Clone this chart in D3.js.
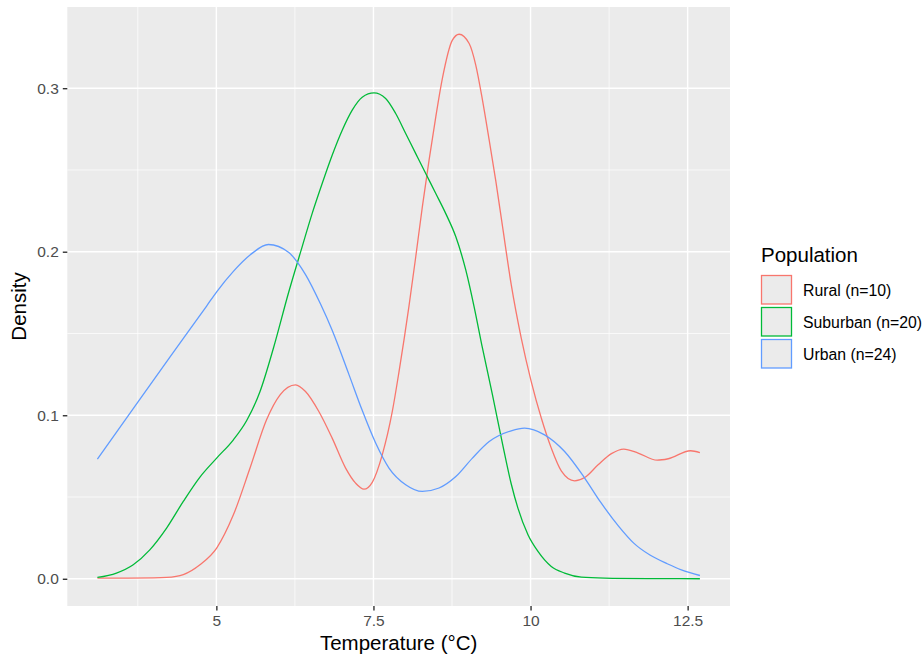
<!DOCTYPE html>
<html>
<head>
<meta charset="utf-8">
<script src="https://cdn.jsdelivr.net/npm/d3@7"></script>
<style>
  body { margin: 0; background: #fff; }
  svg { font-family: "Liberation Sans", Arial, sans-serif; }
</style>
</head>
<body>
<div id="container"></div>
<script>
// density curves: [temperature, density]
var groups = ["Rural (n=10)", "Suburban (n=20)", "Urban (n=24)"];
var colors = ["#F8766D", "#00BA38", "#619CFF"];

var rural = [[3.107,0.0004],[3.6,0.0004],[4.0,0.0005],[4.208,0.0008],[4.474,0.0026],[4.739,0.0086],[5.005,0.0188],
  [5.271,0.0391],[5.536,0.0677],[5.802,0.0975],[6.014,0.1125],[6.26,0.1186],[6.419,0.1145],[6.631,0.1023],
  [6.843,0.086],[7.057,0.0677],[7.216,0.0585],[7.349,0.0548],[7.481,0.0590],[7.64,0.0758],[7.8,0.1023],
  [7.907,0.1267],[8.066,0.1669],[8.173,0.1969],[8.278,0.2274],[8.385,0.256],[8.492,0.2825],[8.597,0.3060],
  [8.756,0.3294],[8.863,0.333],[9.023,0.3273],[9.129,0.3140],[9.235,0.2927],[9.342,0.2682],[9.448,0.2430],
  [9.554,0.2155],[9.692,0.1800],[9.852,0.1472],[10.011,0.1206],[10.171,0.0983],[10.33,0.0799],[10.489,0.0660],
  [10.701,0.0599],[10.861,0.0619],[11.075,0.0697],[11.287,0.0765],[11.483,0.0793],[11.712,0.0769],
  [12.015,0.0725],[12.191,0.0734],[12.546,0.0783],[12.695,0.0772]];

var suburban = [[3.107,0.0008],[3.41,0.0035],[3.677,0.0086],[3.941,0.0177],[4.208,0.031],[4.474,0.0473],
  [4.739,0.0622],[5.005,0.0738],[5.271,0.0850],[5.483,0.0968],[5.695,0.1145],[5.909,0.1411],[6.153,0.1755],
  [6.365,0.2030],[6.524,0.2233],[6.684,0.2417],[6.843,0.2590],[7.003,0.2743],[7.162,0.2866],[7.321,0.2945],
  [7.508,0.2971],[7.694,0.2937],[7.854,0.2845],[8.013,0.2723],[8.173,0.26],[8.332,0.2478],[8.492,0.2356],
  [8.651,0.2233],[8.811,0.2091],[8.97,0.1887],[9.102,0.1663],[9.235,0.141],[9.394,0.1125],[9.554,0.0825],
  [9.692,0.0581],[9.799,0.0432],[9.959,0.0269],[10.118,0.0167],[10.33,0.0075],[10.542,0.0035],
  [10.808,0.0010],[11.18,0.0004],[12.0,0.0001],[12.695,0.0]];

var urban = [[3.107,0.0732],[3.677,0.1041],[4.255,0.1352],[4.845,0.1668],[5.005,0.1755],[5.271,0.1880],
  [5.536,0.1980],[5.829,0.2044],[6.153,0.1995],[6.419,0.1860],[6.658,0.1680],[6.843,0.1520],[7.109,0.1250],
  [7.321,0.1030],[7.535,0.0830],[7.747,0.0677],[8.013,0.0575],[8.278,0.0534],[8.544,0.0555],[8.811,0.0625],
  [9.075,0.0738],[9.342,0.0839],[9.692,0.0905],[9.904,0.0921],[10.223,0.0880],[10.542,0.0778],[10.861,0.0616],
  [11.112,0.0470],[11.4,0.0322],[11.642,0.0218],[11.9,0.0145],[12.175,0.0092],[12.4,0.0055],[12.695,0.0020]];

var series = [rural, suburban, urban];

var xTicks = [5, 7.5, 10, 12.5],
    xMinor = [3.75, 6.25, 8.75, 11.25],
    yTicks = [0, 0.1, 0.2, 0.3],
    yMinor = [0.05, 0.15, 0.25];

var width = 923, height = 658;
var panel = {left: 67.3, right: 730, top: 7, bottom: 606};

var svg = d3.select("#container").append("svg")
    .attr("width", width)
    .attr("height", height);

//scales with ggplot's 5% expansion
var x = d3.scaleLinear().domain([2.628, 13.174]).range([panel.left, panel.right]);
var y = d3.scaleLinear().domain([-0.01665, 0.34965]).range([panel.bottom, panel.top]);

//panel background
svg.append("rect")
    .attr("x", panel.left).attr("y", panel.top)
    .attr("width", panel.right - panel.left)
    .attr("height", panel.bottom - panel.top)
    .attr("fill", "#EBEBEB");

//minor grid
svg.selectAll(".xminor").data(xMinor).enter().append("line")
    .attr("x1", d => x(d)).attr("x2", d => x(d))
    .attr("y1", panel.top).attr("y2", panel.bottom)
    .attr("stroke", "#fff").attr("stroke-width", 0.7);
svg.selectAll(".yminor").data(yMinor).enter().append("line")
    .attr("y1", d => y(d)).attr("y2", d => y(d))
    .attr("x1", panel.left).attr("x2", panel.right)
    .attr("stroke", "#fff").attr("stroke-width", 0.7);

//major grid
svg.selectAll(".xmajor").data(xTicks).enter().append("line")
    .attr("x1", d => x(d)).attr("x2", d => x(d))
    .attr("y1", panel.top).attr("y2", panel.bottom)
    .attr("stroke", "#fff").attr("stroke-width", 1.4);
svg.selectAll(".ymajor").data(yTicks).enter().append("line")
    .attr("y1", d => y(d)).attr("y2", d => y(d))
    .attr("x1", panel.left).attr("x2", panel.right)
    .attr("stroke", "#fff").attr("stroke-width", 1.4);

//density lines
var line = d3.line()
    .x(d => x(d[0]))
    .y(d => y(d[1]))
    .curve(d3.curveMonotoneX);

svg.selectAll(".density").data(series).enter().append("path")
    .attr("class", "density")
    .attr("d", line)
    .attr("fill", "none")
    .attr("stroke", (d, i) => colors[i])
    .attr("stroke-width", 1.3);

//axes
var xAxis = svg.append("g")
    .attr("transform", "translate(0," + panel.bottom + ")")
    .call(d3.axisBottom(x).tickValues(xTicks).tickSize(4.5).tickPadding(4).tickFormat(d3.format("")));
var yAxis = svg.append("g")
    .attr("transform", "translate(" + panel.left + ",0)")
    .call(d3.axisLeft(y).tickValues(yTicks).tickSize(4.5).tickPadding(4).tickFormat(d3.format(".1f")));

[xAxis, yAxis].forEach(function(g){
    g.select(".domain").remove();
    g.selectAll(".tick line").attr("stroke", "#333333").attr("stroke-width", 1.4);
    g.selectAll(".tick text")
        .attr("fill", "#4D4D4D")
        .style("font-size", "15.5px")
        .style("font-family", "'Liberation Sans', Arial, sans-serif");
});

//axis titles
svg.append("text")
    .attr("x", (panel.left + panel.right) / 2)
    .attr("y", 650)
    .attr("text-anchor", "middle")
    .style("font-size", "20.5px")
    .text("Temperature (°C)");

svg.append("text")
    .attr("transform", "translate(26," + ((panel.top + panel.bottom) / 2) + ") rotate(-90)")
    .attr("text-anchor", "middle")
    .style("font-size", "20.5px")
    .text("Density");

//legend
var legend = svg.append("g").attr("transform", "translate(761,0)");
legend.append("text")
    .attr("x", 0).attr("y", 262)
    .style("font-size", "20.5px")
    .text("Population");

var keys = legend.selectAll(".key").data(groups).enter().append("g")
    .attr("transform", (d, i) => "translate(0," + (275.5 + i * 32) + ")");
keys.append("rect")
    .attr("x", 0.5).attr("y", 0)
    .attr("width", 30).attr("height", 28.5)
    .attr("fill", "#EBEBEB")
    .attr("stroke", (d, i) => colors[i])
    .attr("stroke-width", 1.3);
keys.append("text")
    .attr("x", 42).attr("y", 14.5)
    .attr("dy", "0.35em")
    .style("font-size", "15.8px")
    .text(d => d);
</script>
</body>
</html>
